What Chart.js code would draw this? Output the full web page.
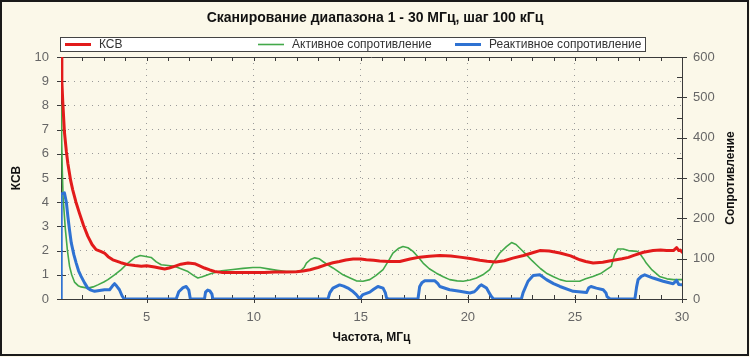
<!DOCTYPE html>
<html><head><meta charset="utf-8">
<script src="https://cdn.jsdelivr.net/npm/chart.js@4.4.0/dist/chart.umd.min.js"></script>
<style>html,body{margin:0;padding:0;background:#fbf8e9;overflow:hidden}canvas{display:block}</style>
</head><body>
<canvas id="c" width="750" height="357"></canvas>
<script>
const chartTitle = 'Сканирование диапазона 1 - 30 МГц, шаг 100 кГц';
const seriesNames = ['КСВ', 'Активное сопротивление', 'Реактивное сопротивление'];
const xAxisTitle = 'Частота, МГц';
const yAxisTitle = 'КСВ';
const y1AxisTitle = 'Сопротивление';
const xLabelValues = [5, 10, 15, 20, 25, 30];

const swrFreq = [1.0,1.04,1.08,1.16,1.25,1.32,1.45,1.55,1.7,1.86,2.05,2.25,2.45,2.64,2.85,3.03,3.2,3.42,3.8,4.12,4.45,4.75,5.0,5.37,5.6,5.84,6.05,6.3,6.6,6.93,7.24,7.45,7.7,7.95,8.17,8.5,9.0,9.5,10.0,10.5,11.0,11.5,12.0,12.3,12.63,13.0,13.39,13.7,14.0,14.3,14.64,15.0,15.26,15.6,15.88,16.3,16.82,17.3,17.75,18.2,18.69,19.2,19.63,20.1,20.56,20.9,21.3,21.7,22.1,22.6,23.06,23.36,23.8,24.3,24.8,25.23,25.5,25.85,26.3,26.79,27.2,27.5,27.75,28.2,28.65,29.0,29.28,29.6,29.75,29.85,29.92,30.0];
const swrValues = [10.0,9.0,8.2,6.9,6.1,5.6,4.9,4.5,4.0,3.55,3.05,2.6,2.25,2.04,1.97,1.9,1.75,1.62,1.5,1.42,1.38,1.35,1.37,1.32,1.28,1.24,1.28,1.35,1.44,1.49,1.46,1.38,1.28,1.2,1.14,1.1,1.1,1.09,1.1,1.1,1.12,1.12,1.13,1.16,1.21,1.3,1.42,1.5,1.55,1.61,1.65,1.65,1.62,1.6,1.57,1.55,1.55,1.65,1.73,1.77,1.8,1.78,1.73,1.67,1.6,1.56,1.53,1.58,1.69,1.8,1.92,2.0,1.98,1.9,1.78,1.62,1.55,1.49,1.52,1.6,1.66,1.72,1.8,1.93,2.0,2.02,2.0,2.0,2.12,2.0,2.02,1.94];

const activeFreq = [1.0,1.03,1.06,1.1,1.2,1.3,1.4,1.5,1.63,1.8,1.94,2.25,2.5,2.72,3.0,3.19,3.5,3.81,4.1,4.43,4.7,4.9,5.21,5.45,5.68,6.0,6.3,6.6,6.93,7.2,7.39,7.6,8.02,8.5,9.03,9.5,9.96,10.3,10.74,11.1,11.52,12.15,12.35,12.46,12.65,12.85,13.05,13.23,13.45,13.7,14.17,14.5,14.79,15.1,15.42,15.7,16.04,16.3,16.5,16.75,16.97,17.2,17.44,17.7,17.91,18.2,18.53,18.85,19.15,19.5,19.78,20.1,20.4,20.7,21.02,21.25,21.49,21.8,22.04,22.25,22.5,22.73,23.0,23.2,23.4,23.67,24.0,24.3,24.6,25.22,25.5,25.84,26.2,26.47,26.7,26.85,27.0,27.25,27.5,27.9,28.0,28.2,28.33,28.6,28.95,29.3,29.6,30.0];
const activeValues = [480,400,320,250,175,120,81,60,42,33,30,27,30,35,42,48,60,73,88,102,108,106,103,92,85,83,81,75,68,58,52,55,63,70,73,76,78,78,74,71,68,68,78,89,98,102,100,93,85,77,60,52,45,44,48,58,73,95,114,125,130,127,118,103,89,75,64,55,48,45,44,47,52,60,73,95,114,130,140,135,122,110,95,85,75,64,55,48,44,44,50,56,63,73,81,110,124,124,120,118,115,100,89,72,56,50,48,48];

const reactiveFreq = [1.0,1.01,1.16,1.25,1.32,1.4,1.48,1.6,1.71,1.82,1.94,2.1,2.25,2.4,2.57,2.8,3.03,3.27,3.4,3.5,3.6,3.73,3.85,3.95,6.38,6.5,6.7,6.85,6.97,7.04,7.7,7.75,7.85,7.95,8.05,8.09,13.47,13.55,13.7,14.01,14.2,14.4,14.6,14.79,14.95,15.0,15.1,15.42,15.6,15.8,16.04,16.15,16.2,16.28,17.67,17.75,17.85,17.99,18.46,18.6,18.69,19.15,19.62,20.09,20.3,20.4,20.55,20.64,20.87,21.0,21.1,21.2,22.5,22.58,22.81,23.05,23.36,23.67,24.0,24.3,24.92,25.54,25.65,25.75,26.0,26.32,26.45,26.5,26.64,27.8,27.88,27.95,28.1,28.26,28.65,29.12,29.59,29.75,29.85,30.0];
const reactiveValues = [0,260,263,240,205,170,139,110,89,70,56,40,27,22,19,21,23,23,32,38,32,23,8,0,0,18,28,31,22,0,0,17,22,20,12,0,0,15,27,35,32,27,20,11,0,5,11,17,24,31,27,15,3,0,0,31,40,45,45,38,31,23,19,15,18,23,32,35,27,15,6,0,0,16,44,58,60,48,38,31,19,16,28,31,27,23,15,6,0,0,30,48,56,60,52,44,38,46,36,35];

const seriesColors = ['#e21b1b', '#43a94a', '#2f72d2'];
const FONT = "'Liberation Sans', Arial, sans-serif";
Chart.defaults.font.family = FONT;

function pts(xs, ys) { return xs.map((x, i) => ({x: x, y: ys[i]})); }

const frameAndExtras = {
  id: 'frameAndExtras',
  beforeDraw(chart) {
    const ctx = chart.ctx;
    ctx.save();
    ctx.fillStyle = '#fbf8e9';
    ctx.fillRect(0, 0, chart.width, chart.height);
    ctx.restore();
  },
  beforeDatasetsDraw(chart) {
    const ctx = chart.ctx, a = chart.chartArea;
    const xs = chart.scales.x, ys = chart.scales.y, y1 = chart.scales.y1;
    ctx.save();
    ctx.strokeStyle = '#3a3a3a';
    ctx.lineWidth = 1;
    ctx.beginPath();
    // top line
    ctx.moveTo(a.left, Math.round(a.top) + 0.5); ctx.lineTo(a.right, Math.round(a.top) + 0.5);
    xs.ticks.forEach(t => {
      const px = Math.round(xs.getPixelForValue(t.value)) + 0.5;
      const major = t.value % 5 === 0;
      ctx.moveTo(px, a.bottom - 4); ctx.lineTo(px, a.bottom + (major ? 4 : 0));
      ctx.moveTo(px, a.top); ctx.lineTo(px, a.top + 4);
    });
    ys.ticks.forEach(t => {
      const py = Math.round(ys.getPixelForValue(t.value)) + 0.5;
      ctx.moveTo(a.left - 4, py); ctx.lineTo(a.left + 5, py);
    });
    y1.ticks.forEach(t => {
      const py = Math.round(y1.getPixelForValue(t.value)) + 0.5;
      const major = t.value % 100 === 0;
      ctx.moveTo(a.right - 5, py); ctx.lineTo(a.right + (major ? 5 : 0), py);
    });
    ctx.stroke();
    ctx.restore();
  },
  afterDraw(chart) {
    const ctx = chart.ctx, a = chart.chartArea;
    ctx.save();
    // legend box
    ctx.fillStyle = '#ffffff';
    ctx.fillRect(60.5, 37.5, 585, 14);
    ctx.strokeStyle = '#444';
    ctx.lineWidth = 1;
    ctx.strokeRect(60.5, 37.5, 585, 14);
    const itemX = [65, 258, 455];
    const widths = [3, 1.6, 3];
    ctx.font = '12px ' + FONT;
    ctx.textBaseline = 'middle';
    ctx.textAlign = 'left';
    chart.data.datasets.forEach((ds, i) => {
      ctx.strokeStyle = ds.borderColor;
      ctx.lineWidth = widths[i];
      ctx.beginPath();
      ctx.moveTo(itemX[i], 44.5); ctx.lineTo(itemX[i] + 26, 44.5);
      ctx.stroke();
      ctx.fillStyle = '#333';
      ctx.fillText(ds.label, itemX[i] + 34, 45);
    });
    // right axis title (reads bottom to top)
    ctx.font = 'bold 12px ' + FONT;
    ctx.fillStyle = '#111';
    ctx.textAlign = 'center';
    ctx.translate(731, (a.top + a.bottom) / 2);
    ctx.rotate(-Math.PI / 2);
    ctx.fillText(y1AxisTitle, 0, 0);
    ctx.restore();
    // outer frame
    ctx.save();
    ctx.strokeStyle = '#1a1a1a';
    ctx.lineWidth = 2;
    ctx.strokeRect(1, 1, chart.width - 3, chart.height - 3);
    ctx.restore();
  }
};

const gridDash = [1, 5];
new Chart(document.getElementById('c'), {
  type: 'line',
  data: {
    datasets: [
      { label: seriesNames[0], data: pts(swrFreq, swrValues), yAxisID: 'y', borderColor: seriesColors[0], borderWidth: 3, order: 0 },
      { label: seriesNames[1], data: pts(activeFreq, activeValues), yAxisID: 'y1', borderColor: seriesColors[1], borderWidth: 1.6, order: 2 },
      { label: seriesNames[2], data: pts(reactiveFreq, reactiveValues), yAxisID: 'y1', borderColor: seriesColors[2], borderWidth: 3, order: 1 }
    ]
  },
  options: {
    responsive: false,
    animation: false,
    devicePixelRatio: 1,
    layout: { padding: 0 },
    elements: { point: { radius: 0 }, line: { tension: 0, borderJoinStyle: 'round', borderCapStyle: 'round' } },
    plugins: {
      legend: { display: false },
      tooltip: { enabled: false },
      title: {
        display: true, text: chartTitle, color: '#111',
        font: { size: 14, weight: 'bold', family: FONT },
        padding: { top: 10, bottom: 30.2 }
      }
    },
    scales: {
      x: {
        type: 'linear', min: 1, max: 30,
        afterFit(s) { s.height = 58; },
        ticks: {
          stepSize: 1, autoSkip: false, maxRotation: 0, padding: 11,
          color: '#666', font: { size: 13 },
          callback: v => xLabelValues.includes(v) ? String(v) : ''
        },
        grid: {
          drawTicks: false,
          color: c => (c.tick && c.tick.value % 5 === 0 && c.tick.value !== 30) ? '#9a9a9a' : 'rgba(0,0,0,0)'
        },
        border: { display: true, color: '#3a3a3a', width: 1, dash: gridDash },
        title: { display: true, text: xAxisTitle, color: '#111', font: { size: 12, weight: 'bold' }, padding: { top: 0, bottom: 11.8 } }
      },
      y: {
        position: 'left', min: 0, max: 10,
        afterFit(s) { s.width = 61; },
        ticks: { stepSize: 1, padding: 12, color: '#666', font: { size: 13 } },
        grid: {
          drawTicks: false,
          color: c => (c.tick && c.tick.value > 0 && c.tick.value < 10) ? '#9a9a9a' : 'rgba(0,0,0,0)'
        },
        border: { display: true, color: '#3a3a3a', width: 1, dash: gridDash },
        title: { display: true, text: yAxisTitle, color: '#111', font: { size: 12, weight: 'bold' }, padding: { top: 9.3, bottom: 0 } }
      },
      y1: {
        position: 'right', min: 0, max: 600,
        afterFit(s) { s.width = 68; },
        ticks: {
          stepSize: 50, padding: 11, color: '#666', font: { size: 13 },
          callback: v => v % 100 === 0 ? String(v) : ''
        },
        grid: { drawTicks: false, drawOnChartArea: false },
        border: { display: true, color: '#3a3a3a', width: 1 }
      }
    }
  },
  plugins: [frameAndExtras]
});
</script>
</body></html>
